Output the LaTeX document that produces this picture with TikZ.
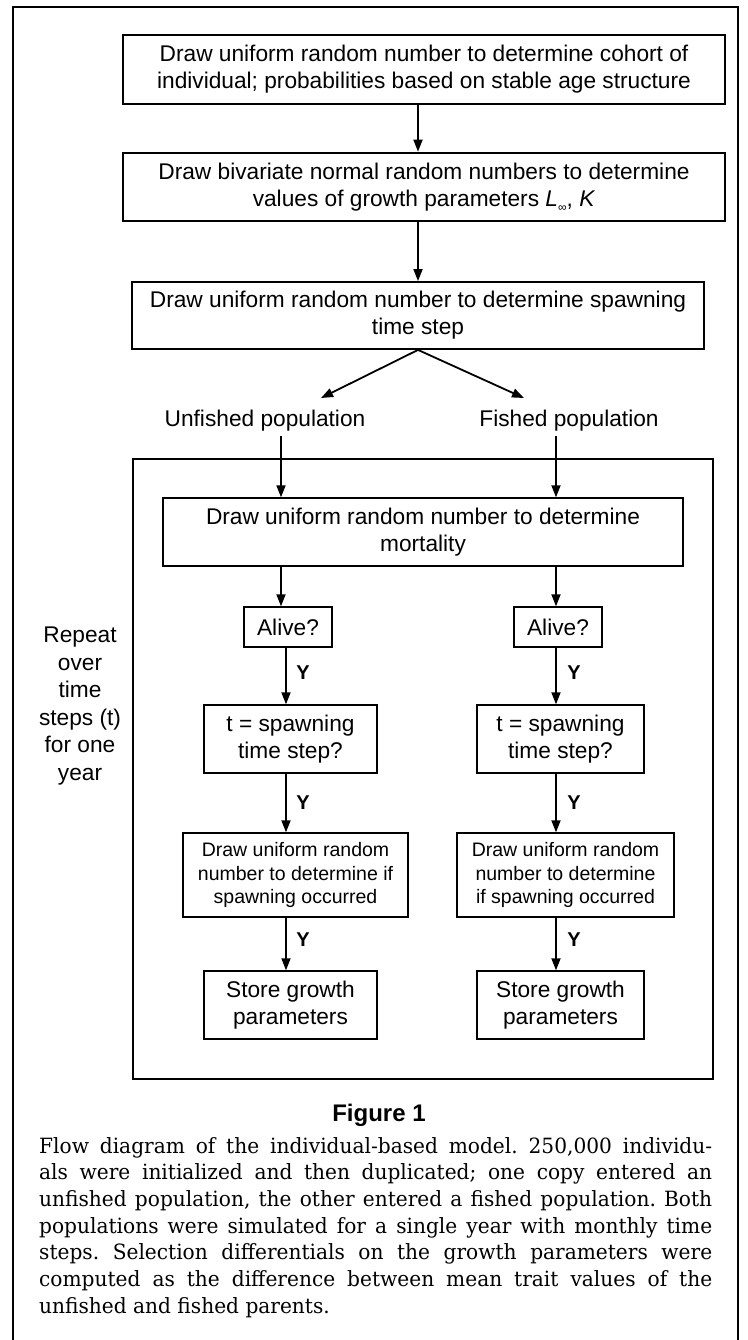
\documentclass[tikz,border=0pt]{standalone}
\usepackage{fontspec}
\setmainfont{Liberation Sans}
\newfontfamily\capfont[FakeStretch=0.96]{DejaVu Serif}
\usetikzlibrary{arrows.meta}
\begin{document}
\begin{tikzpicture}[x=1pt,y=-1pt,
  box/.style={draw, line width=1.4pt, inner sep=0pt, align=center,
    font=\fontsize{22.7}{27}\selectfont},
  smallbox/.style={box, font=\fontsize{19.5}{23.5}\selectfont},
  lab/.style={inner sep=2pt, font=\fontsize{22.7}{27}\selectfont},
  arr/.style={-{Triangle[length=12pt,width=9pt]}, line width=1.8pt},
  ylab/.style={inner sep=0pt, font=\fontsize{20}{22}\selectfont\bfseries},
  capline/.style={anchor=base west, inner sep=0pt, font=\capfont\frenchspacing\fontsize{21}{26.7}\selectfont},
]
\useasboundingbox (0,0) rectangle (747,1340);
% outer frame
\draw[line width=2.6pt] (13,1342) -- (13,7) -- (738,7) -- (738,1342);

% column coordinates
\coordinate (cM) at (418,0);
\coordinate (cL) at (281,0);
\coordinate (cL2) at (286,0);
\coordinate (cR) at (556,0);

% top boxes
\node[box, line width=1.6pt, minimum width=602pt, minimum height=69pt] (b1) at (424,69.5)
  {Draw uniform random number to determine cohort of\\individual; probabilities based on stable age structure};
\node[box, line width=2.6pt, minimum width=602pt, minimum height=68pt] (b2) at (424,187)
  {Draw bivariate normal random numbers to determine\\values of growth parameters \textit{L}\raisebox{-0.45ex}{\fontsize{12}{12}\selectfont ∞}, \textit{K}};
\node[box, line width=1.8pt, minimum width=572pt, minimum height=67pt] (b3) at (418,315.5)
  {Draw uniform random number to determine spawning\\time step};

\draw[arr] (b1.south -| cM) -- (b2.north -| cM);
\draw[arr] (b2.south -| cM) -- (b3.north -| cM);

% split
\node[lab] (unf) at (265,421) {Unfished population};
\node[lab] (fis) at (569,421) {Fished population};
\coordinate (uA) at (321,398);
\coordinate (fA) at (524,398);
\draw[arr] (b3.south) -- (uA);
\draw[arr] (b3.south) -- (fA);

% inner frame
\node[draw, line width=2.2pt, minimum width=580pt, minimum height=620pt, inner sep=0pt] (frame) at (423,769) {};

% mortality
\node[box, minimum width=520pt, minimum height=68pt] (mort) at (423,532)
  {Draw uniform random number to determine\\mortality};
\draw[arr, shorten <=2pt] (unf.south -| cL) -- (mort.north -| cL);
\draw[arr, shorten <=2pt] (fis.south -| cR) -- (mort.north -| cR);

% left column
\node[box, minimum width=88pt, minimum height=40pt] (aL) at (288,627) {Alive?};
\node[box, minimum width=173pt, minimum height=68pt] (tL) at (290.5,739) {t = spawning\\time step?};
\node[smallbox, minimum width=225pt, minimum height=84pt] (dL) at (295.5,875)
  {Draw uniform random\\number to determine if\\spawning occurred};
\node[box, minimum width=173pt, minimum height=68pt] (sL) at (290.5,1005) {Store growth\\parameters};

% right column
\node[box, minimum width=88pt, minimum height=40pt] (aR) at (558,627) {Alive?};
\node[box, minimum width=167pt, minimum height=68pt] (tR) at (560.5,739) {t = spawning\\time step?};
\node[smallbox, minimum width=217pt, minimum height=84pt] (dR) at (565.5,875)
  {Draw uniform random\\number to determine\\if spawning occurred};
\node[box, minimum width=167pt, minimum height=68pt] (sR) at (560.5,1005) {Store growth\\parameters};

% arrows left
\draw[arr] (mort.south -| cL) -- (aL.north -| cL);
\draw[arr] (aL.south -| cL2) -- (tL.north -| cL2);
\draw[arr] (tL.south -| cL2) -- (dL.north -| cL2);
\draw[arr] (dL.south -| cL2) -- (sL.north -| cL2);
% arrows right
\draw[arr] (mort.south -| cR) -- (aR.north -| cR);
\draw[arr] (aR.south -| cR) -- (tR.north -| cR);
\draw[arr] (tR.south -| cR) -- (dR.north -| cR);
\draw[arr] (dR.south -| cR) -- (sR.north -| cR);

% Y labels
\node[ylab] (y1L) at (303,673) {Y};
\node[ylab] (y2L) at (303,803) {Y};
\node[ylab] (y3L) at (303,940) {Y};
\node[ylab] (y1R) at (574,673) {Y};
\node[ylab] (y2R) at (574,803) {Y};
\node[ylab] (y3R) at (574,940) {Y};

% repeat label
\node[align=center, inner sep=0pt, font=\fontsize{22.7}{27.6}\selectfont] (rep) at (80,706)
  {Repeat\\over\\time\\steps (t)\\for one\\year};

% caption
\node[inner sep=0pt, font=\fontsize{24}{28}\selectfont\bfseries] (fig) at (379,1115) {Figure 1};
\node[capline] (cap1) at (39,1153) {\makebox[673pt][s]{Flow diagram of the individual-based model. 250,000 individu-}};
\node[capline] (cap2) at (39,1179.7) {\makebox[673pt][s]{als were initialized and then duplicated; one copy entered an}};
\node[capline] (cap3) at (39,1206.4) {\makebox[673pt][s]{unfished population, the other entered a fished population. Both}};
\node[capline] (cap4) at (39,1233.1) {\makebox[673pt][s]{populations were simulated for a single year with monthly time}};
\node[capline] (cap5) at (39,1259.8) {\makebox[673pt][s]{steps. Selection differentials on the growth parameters were}};
\node[capline] (cap6) at (39,1286.5) {\makebox[673pt][s]{computed as the difference between mean trait values of the}};
\node[capline] (cap7) at (39,1313.2) {unfished and fished parents.};
\end{tikzpicture}
\end{document}
